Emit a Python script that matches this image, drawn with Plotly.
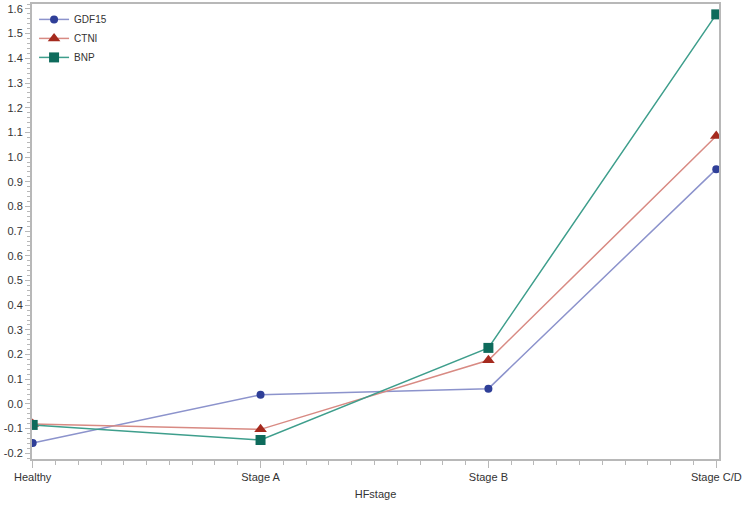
import plotly.graph_objects as go

stages = ["Healthy", "Stage A", "Stage B", "Stage C/D"]
stage_pos = [0, 1, 2, 3]
gdf15 = [-0.158, 0.037, 0.062, 0.951]
ctni = [-0.081, -0.103, 0.177, 1.085]
bnp = [-0.085, -0.146, 0.227, 1.578]
y_ticks = [-0.2, -0.1, 0.0, 0.1, 0.2, 0.3, 0.4, 0.5, 0.6, 0.7, 0.8, 0.9,
           1.0, 1.1, 1.2, 1.3, 1.4, 1.5, 1.6]

series = [
    ("GDF15", gdf15, "circle", "#2F3F98", "#8C93CC", 8),
    ("CTNI", ctni, "triangle-up", "#A52A1E", "#D88A83", 11),
    ("BNP", bnp, "square", "#0E6B5C", "#3E9E8C", 10),
]

fig = go.Figure()
for name, vals, sym, mcol, lcol, size in series:
    fig.add_trace(go.Scatter(
        x=stage_pos, y=vals, name=name, mode="lines+markers",
        line=dict(color=lcol, width=1.5),
        marker=dict(symbol=sym, color=mcol, size=size),
    ))

font = dict(family="Liberation Sans, Arial, sans-serif", size=11, color="#333333")

axis_common = dict(
    showline=True, linecolor="#B8B8B8", linewidth=2, mirror=True,
    showgrid=False, zeroline=False, ticks="outside", tickcolor="#B8B8B8",
    tickfont=font, automargin=False,
)

fig.update_xaxes(
    **axis_common,
    range=[-0.003, 3.012],
    tickvals=stage_pos, ticktext=stages, ticklen=7, tickwidth=1,
    minor=dict(dtick=0.1, tick0=0, ticks="outside", ticklen=4, tickcolor="#B8B8B8"),
    title=dict(text="HFstage", font=font, standoff=8),
)
fig.update_yaxes(
    **axis_common,
    range=[-0.223, 1.62],
    tickvals=y_ticks, ticktext=[("%.1f" % v).replace("-0.0", "0.0") for v in y_ticks],
    ticklen=5, tickwidth=1,
    minor=dict(dtick=0.02, tick0=0, ticks="outside", ticklen=3, tickcolor="#B8B8B8"),
)

fig.update_layout(
    width=745, height=510,
    margin=dict(l=32, r=26, t=4, b=51, autoexpand=False),
    paper_bgcolor="white", plot_bgcolor="white",
    legend=dict(x=0.003, y=0.998, xanchor="left", yanchor="top",
                bgcolor="rgba(255,255,255,0)", tracegroupgap=0,
                font=dict(family="Liberation Sans, Arial, sans-serif", size=10, color="#333333"),
                itemwidth=30),
)

fig.write_html("out.html",
               config={"displayModeBar": False},
               post_script="document.body.style.margin='0';document.body.style.padding='0';")
